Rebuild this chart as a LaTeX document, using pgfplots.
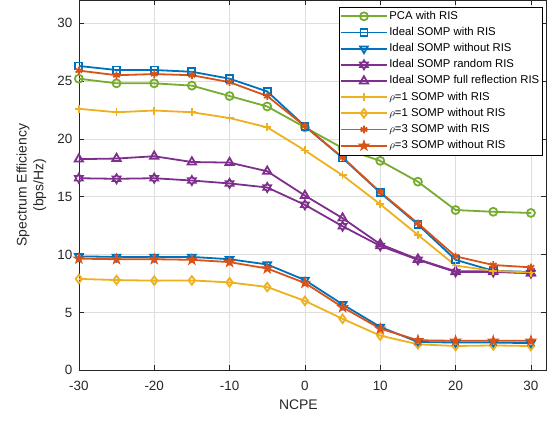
\documentclass[border=0pt]{standalone}
\usepackage{pgfplots}
\pgfplotsset{compat=1.18}
\usepackage{fontspec}
\setmainfont{Liberation Sans}
\definecolor{mgreen}{rgb}{0.466,0.674,0.188}
\definecolor{mblue}{rgb}{0,0.447,0.741}
\definecolor{mpurple}{rgb}{0.494,0.184,0.556}
\definecolor{myellow}{rgb}{0.929,0.694,0.125}
\definecolor{morange}{rgb}{0.85,0.325,0.098}
\definecolor{axgray}{rgb}{0.15,0.15,0.15}

\pgfdeclareplotmark{pentagram}{%
  \pgfpathmoveto{\pgfpointpolar{90}{\pgfplotmarksize}}%
  \pgfpathlineto{\pgfpointpolar{126}{0.382\pgfplotmarksize}}%
  \pgfpathlineto{\pgfpointpolar{162}{\pgfplotmarksize}}%
  \pgfpathlineto{\pgfpointpolar{198}{0.382\pgfplotmarksize}}%
  \pgfpathlineto{\pgfpointpolar{234}{\pgfplotmarksize}}%
  \pgfpathlineto{\pgfpointpolar{270}{0.382\pgfplotmarksize}}%
  \pgfpathlineto{\pgfpointpolar{306}{\pgfplotmarksize}}%
  \pgfpathlineto{\pgfpointpolar{342}{0.382\pgfplotmarksize}}%
  \pgfpathlineto{\pgfpointpolar{18}{\pgfplotmarksize}}%
  \pgfpathlineto{\pgfpointpolar{54}{0.382\pgfplotmarksize}}%
  \pgfpathclose\pgfusepathqfillstroke}
\pgfdeclareplotmark{hexagram}{%
  \pgfpathmoveto{\pgfpointpolar{90}{\pgfplotmarksize}}%
  \pgfpathlineto{\pgfpointpolar{120}{0.577\pgfplotmarksize}}%
  \pgfpathlineto{\pgfpointpolar{150}{\pgfplotmarksize}}%
  \pgfpathlineto{\pgfpointpolar{180}{0.577\pgfplotmarksize}}%
  \pgfpathlineto{\pgfpointpolar{210}{\pgfplotmarksize}}%
  \pgfpathlineto{\pgfpointpolar{240}{0.577\pgfplotmarksize}}%
  \pgfpathlineto{\pgfpointpolar{270}{\pgfplotmarksize}}%
  \pgfpathlineto{\pgfpointpolar{300}{0.577\pgfplotmarksize}}%
  \pgfpathlineto{\pgfpointpolar{330}{\pgfplotmarksize}}%
  \pgfpathlineto{\pgfpointpolar{0}{0.577\pgfplotmarksize}}%
  \pgfpathlineto{\pgfpointpolar{30}{\pgfplotmarksize}}%
  \pgfpathlineto{\pgfpointpolar{60}{0.577\pgfplotmarksize}}%
  \pgfpathclose\pgfusepathqstroke}

\begin{document}
\begin{tikzpicture}
\begin{axis}[name=ax,
  width=468bp, height=371bp, scale only axis,
  xmin=-30, xmax=32, ymin=0, ymax=32,
  xtick={-30,-20,...,30}, ytick={0,5,...,30},
  grid=major, major grid style={draw=black!13, line width=0.5bp},
  tick align=inside, major tick length=5bp,
  axis line style={draw=axgray, line width=0.6bp},
  tick style={draw=axgray, line width=0.6bp},
  ticklabel style={font=\fontsize{13.5}{16}\selectfont, text=axgray},
  /pgf/number format/assume math mode=true,
  xticklabel style={yshift=-7bp},
  yticklabel style={xshift=-3bp},
  label style={font=\fontsize{14}{17}\selectfont, text=axgray},
  xlabel={NCPE},
  ylabel={Spectrum Efficiency\\(bps/Hz)},
  xlabel style={at={(axis description cs:0.47,0)}, anchor=north, yshift=-26bp},
  ylabel style={align=center, at={(axis description cs:-0.062,0.5)}, anchor=south},
  legend style={at={(1,1)}, anchor=north east, xshift=-4bp, yshift=-7bp,
    draw=black, line width=0.5bp, fill=white,
    font=\fontsize{11.4}{13}\selectfont,
    inner xsep=1bp, inner ysep=1bp, row sep=0pt,
    nodes={inner xsep=1.5bp, inner ysep=2.6bp, text height=8.5bp, text depth=2.5bp}},
  legend cell align=left,
  legend image code/.code={\draw[mark repeat=2,mark phase=2] plot coordinates {(0bp,0bp) (23bp,0bp) (46bp,0bp)};},
  every axis plot/.append style={line width=1.8bp},
]
\addplot[color=mgreen, mark=o, mark size=4bp, mark options={solid}] coordinates {
(-30,25.2) (-25,24.8) (-20,24.8) (-15,24.6) (-10,23.7) (-5,22.8) (0,21.0) (5,19.2) (10,18.1) (15,16.3) (20,13.85) (25,13.7) (30,13.6)};
\addlegendentry{PCA with RIS}
\addplot[color=mblue, mark=square, mark size=3.5bp, mark options={solid}] coordinates {
(-30,26.3) (-25,25.95) (-20,25.95) (-15,25.8) (-10,25.2) (-5,24.1) (0,21.1) (5,18.35) (10,15.35) (15,12.6) (20,9.55) (25,8.6) (30,8.5)};
\addlegendentry{Ideal SOMP with RIS}
\addplot[color=mblue, mark=triangle, mark size=4.5bp, mark options={solid, rotate=180}] coordinates {
(-30,9.85) (-25,9.8) (-20,9.8) (-15,9.8) (-10,9.6) (-5,9.15) (0,7.8) (5,5.7) (10,3.75) (15,2.45) (20,2.4) (25,2.4) (30,2.35)};
\addlegendentry{Ideal SOMP without RIS}
\addplot[color=mpurple, mark=hexagram, mark size=4.5bp, mark options={solid}] coordinates {
(-30,16.6) (-25,16.55) (-20,16.6) (-15,16.4) (-10,16.15) (-5,15.8) (0,14.3) (5,12.45) (10,10.75) (15,9.55) (20,8.5) (25,8.5) (30,8.4)};
\addlegendentry{Ideal SOMP random RIS}
\addplot[color=mpurple, mark=triangle, mark size=4.8bp, mark options={solid}] coordinates {
(-30,18.25) (-25,18.3) (-20,18.5) (-15,18.0) (-10,17.95) (-5,17.2) (0,15.1) (5,13.15) (10,10.9) (15,9.6) (20,8.55) (25,8.55) (30,8.4)};
\addlegendentry{Ideal SOMP full reflection RIS}
\addplot[color=myellow, mark=+, mark size=4bp, mark options={solid}] coordinates {
(-30,22.6) (-25,22.3) (-20,22.45) (-15,22.3) (-10,21.8) (-5,21.0) (0,19.0) (5,16.85) (10,14.35) (15,11.7) (20,9.05) (25,8.6) (30,8.45)};
\addlegendentry{$\rho$=1 SOMP with RIS}
\addplot[color=myellow, mark=diamond, mark size=4.3bp, mark options={solid}] coordinates {
(-30,7.9) (-25,7.8) (-20,7.75) (-15,7.77) (-10,7.6) (-5,7.2) (0,6.0) (5,4.45) (10,3.0) (15,2.25) (20,2.1) (25,2.15) (30,2.1)};
\addlegendentry{$\rho$=1 SOMP without RIS}
\addplot[color=morange, mark=asterisk, mark size=3.8bp, mark options={solid}] coordinates {
(-30,25.9) (-25,25.5) (-20,25.6) (-15,25.5) (-10,24.9) (-5,23.7) (0,21.1) (5,18.4) (10,15.4) (15,12.7) (20,9.85) (25,9.1) (30,8.9)};
\addlegendentry{$\rho$=3 SOMP with RIS}
\addplot[color=morange, mark=pentagram, mark size=5.3bp, mark options={solid, fill=morange, line width=0.9bp}] coordinates {
(-30,9.65) (-25,9.6) (-20,9.6) (-15,9.55) (-10,9.35) (-5,8.8) (0,7.55) (5,5.45) (10,3.6) (15,2.6) (20,2.55) (25,2.55) (30,2.55)};
\addlegendentry{$\rho$=3 SOMP without RIS}
\end{axis}
\pgfresetboundingbox
\path ([shift={(-79bp,-50bp)}]ax.south west) rectangle ([shift={(1bp,0bp)}]ax.north east);
\end{tikzpicture}
\end{document}
